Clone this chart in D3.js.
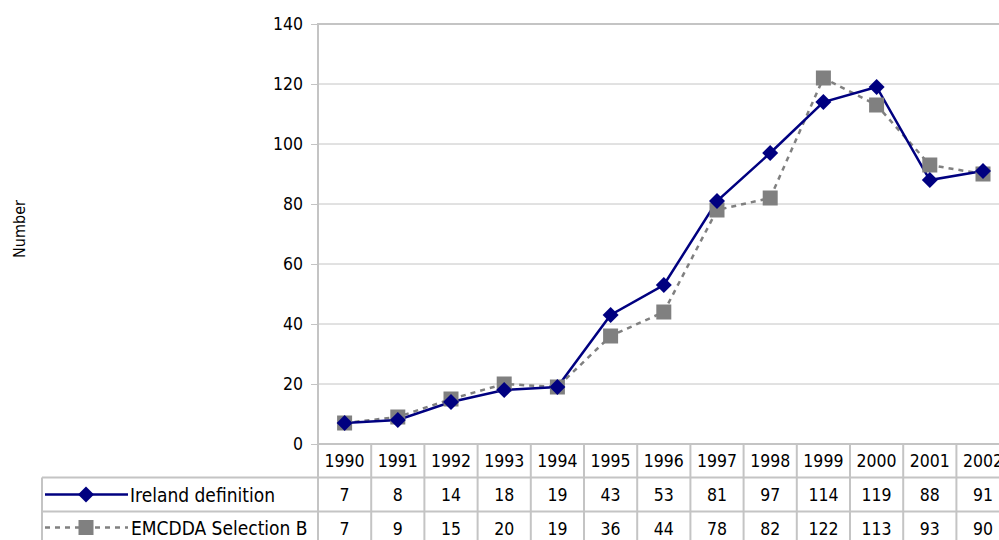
<!DOCTYPE html>
<html><head><meta charset="utf-8">
<script src="https://cdn.jsdelivr.net/npm/d3@7/dist/d3.min.js"></script>
<style>body{margin:0;background:#fff;overflow:hidden}svg{display:block}text{font-family:"DejaVu Sans Condensed","DejaVu Sans",sans-serif;font-stretch:condensed;fill:#000}</style>
</head><body><svg id="c" width="999" height="540"></svg>
<script>
const years = ["1990","1991","1992","1993","1994","1995","1996","1997","1998","1999","2000","2001","2002"];
const irelandDefinition = [7,8,14,18,19,43,53,81,97,114,119,88,91];
const emcddaSelectionB = [7,9,15,20,19,36,44,78,82,122,113,93,90];
const yTicks = [0,20,40,60,80,100,120,140];
const seriesNames = ["Ireland definition","EMCDDA Selection B"];

const svg = d3.select("#c");
const L = 318, T = 24, B = 444, colW = 53.2;
const R = L + colW * years.length;
const fs = "17.5px", fsL = "19px";
const x = d3.scaleBand().domain(years).range([L, R]);
const y = d3.scaleLinear().domain([0,140]).range([B, T]);
const grid = "#c4c4c4";

// gridlines
svg.append("g").selectAll("line").data(yTicks.filter(d=>d>0)).join("line")
  .attr("x1", L).attr("x2", R).attr("y1", d=>y(d)).attr("y2", d=>y(d))
  .attr("stroke", grid).attr("stroke-width", d=>d===140?2:1);

// y axis
const ya = svg.append("g").attr("transform", `translate(${L},0)`)
  .call(d3.axisLeft(y).tickValues(yTicks).tickSize(7).tickPadding(8));
ya.select(".domain").remove();
ya.selectAll(".tick line").attr("stroke", grid);
ya.selectAll(".tick text").style("font-size",fs).attr("fill","#000");
svg.append("line").attr("x1",L).attr("x2",L).attr("y1",T-1).attr("y2",B).attr("stroke",grid).attr("stroke-width",2);

// axis title
svg.append("text").attr("transform","translate(25,229) rotate(-90)").attr("text-anchor","middle")
  .style("font-size","16px").text("Number");

// table
const rowH = [B, 477.5, 511.5, 545.5];
const tg = svg.append("g");
tg.append("line").attr("x1",L).attr("x2",R).attr("y1",B).attr("y2",B).attr("stroke",grid).attr("stroke-width",2);
tg.selectAll(".hl").data([rowH[1],rowH[2]]).join("line")
  .attr("x1",42).attr("x2",R).attr("y1",d=>d).attr("y2",d=>d).attr("stroke",grid).attr("stroke-width",2);
tg.selectAll(".vl").data(years.map(d=>x(d)).concat([R])).join("line")
  .attr("x1",d=>d).attr("x2",d=>d).attr("y1",B).attr("y2",540).attr("stroke",grid).attr("stroke-width",2);
tg.append("line").attr("x1",42).attr("x2",42).attr("y1",rowH[1]).attr("y2",540).attr("stroke",grid).attr("stroke-width",2);

tg.selectAll(".yr").data(years).join("text").attr("x",d=>x(d)+colW/2).attr("y",(rowH[0]+rowH[1])/2+6.5)
  .attr("text-anchor","middle").style("font-size",fs).text(d=>d);
[irelandDefinition, emcddaSelectionB].forEach((arr,i)=>{
  tg.selectAll(".v"+i).data(arr).join("text").attr("x",(d,j)=>x(years[j])+colW/2)
    .attr("y",(rowH[i+1]+rowH[i+2])/2+6.5).attr("text-anchor","middle").style("font-size",fs).text(d=>d);
});

// legend keys
const ly1 = (rowH[1]+rowH[2])/2, ly2 = (rowH[2]+rowH[3])/2 - 1;
tg.append("line").attr("x1",45).attr("x2",128).attr("y1",ly1).attr("y2",ly1).attr("stroke","#000080").attr("stroke-width",2.5);
tg.append("path").attr("d",d3.symbol(d3.symbolSquare, 128)).attr("transform",`translate(86,${ly1}) rotate(45)`).attr("fill","#000080");
tg.append("text").attr("x",130).attr("y",ly1+7).style("font-size",fsL).text(seriesNames[0]);
tg.append("line").attr("x1",45).attr("x2",128).attr("y1",ly2).attr("y2",ly2).attr("stroke","#808080").attr("stroke-width",2.5).attr("stroke-dasharray","5,5");
tg.append("rect").attr("x",78.5).attr("y",ly2-7.5).attr("width",15).attr("height",15).attr("fill","#808080");
tg.append("text").attr("x",131).attr("y",ly2+7).style("font-size",fsL).text(seriesNames[1]);

// series lines
const cx = d=>x(d)+colW/2;
const line = arr => d3.line().x((d,i)=>cx(years[i])).y(d=>y(d))(arr);
svg.append("path").attr("d",line(emcddaSelectionB)).attr("fill","none").attr("stroke","#808080")
  .attr("stroke-width",2.5).attr("stroke-dasharray","5,5");
svg.append("path").attr("d",line(irelandDefinition)).attr("fill","none").attr("stroke","#000080").attr("stroke-width",2.5);
svg.append("g").selectAll("rect").data(emcddaSelectionB).join("rect")
  .attr("x",(d,i)=>cx(years[i])-7.5).attr("y",d=>y(d)-7.5).attr("width",15).attr("height",15).attr("fill","#808080");
svg.append("g").selectAll("path").data(irelandDefinition).join("path")
  .attr("d",d3.symbol(d3.symbolSquare,128)).attr("transform",(d,i)=>`translate(${cx(years[i])},${y(d)}) rotate(45)`).attr("fill","#000080");
</script></body></html>
